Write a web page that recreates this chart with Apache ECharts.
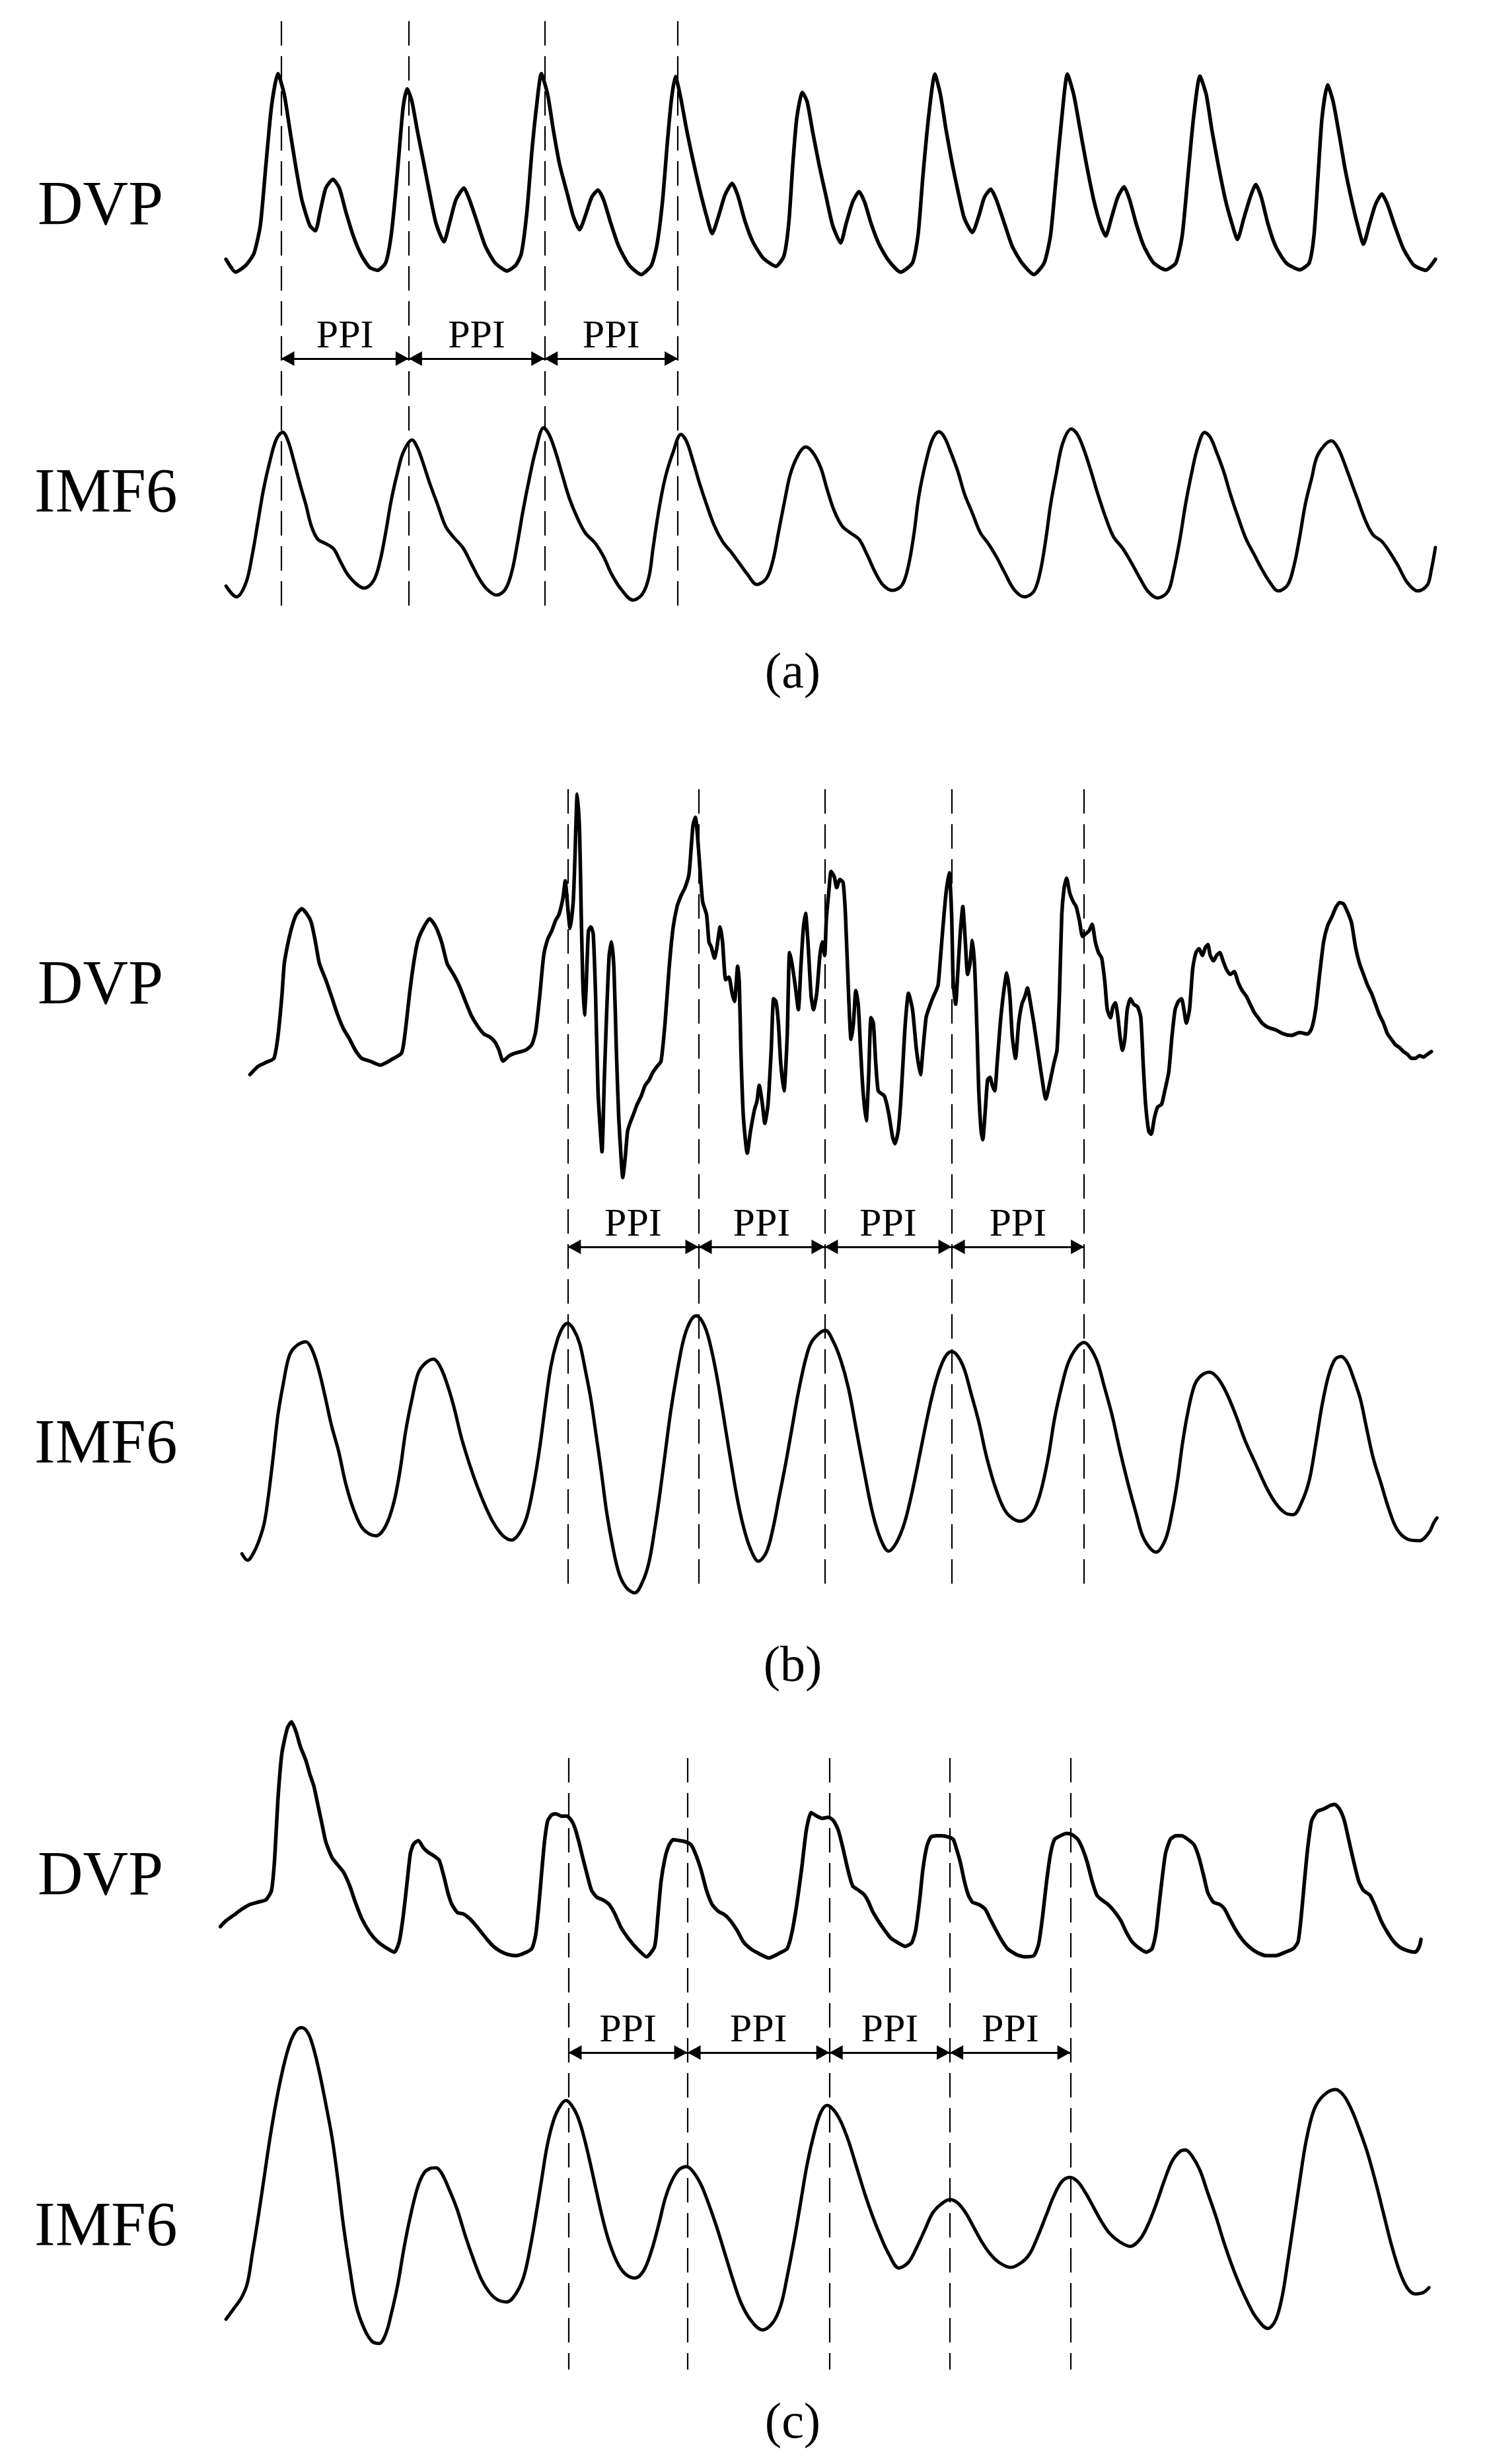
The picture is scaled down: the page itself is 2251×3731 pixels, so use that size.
<!DOCTYPE html>
<html>
<head>
<meta charset="utf-8">
<title>DVP / IMF6 PPI</title>
<script src="https://cdn.jsdelivr.net/npm/echarts@6/dist/echarts.min.js"></script>
<style>
html, body { margin: 0; padding: 0; background: #fff; }
#main { width: 2251px; height: 3731px; }
</style>
</head>
<body>
<div id="main"></div>
<script>
// waveforms as [sample, level]; level grows downward like the picture
var dvpA = [[15,1105],[27,1160],[40,1130],[50,1080],[58,960],[65,700],[72,450],[80,310],[88,400],[95,550],[102,700],[110,850],[120,960],[127,983],[133,900],[140,800],[149,762],[157,800],[165,900],[175,1010],[185,1090],[195,1140],[205,1152],[215,1120],[222,1000],[228,800],[233,600],[237,450],[242,375],[248,430],[255,560],[262,680],[270,820],[278,950],[288,1030],[295,950],[303,850],[313,800],[320,850],[330,950],[340,1050],[352,1120],[367,1155],[378,1130],[385,1080],[392,900],[398,650],[404,450],[410,310],[418,400],[425,550],[433,700],[443,830],[450,920],[458,978],[465,920],[473,840],[481,808],[488,850],[497,950],[507,1050],[520,1130],[535,1170],[548,1130],[555,1040],[562,850],[568,600],[573,420],[578,322],[585,420],[592,550],[600,680],[608,800],[617,920],[624,995],[632,920],[640,830],[649,780],[656,830],[665,940],[675,1030],[688,1100],[704,1135],[714,1090],[720,950],[725,700],[730,500],[737,390],[743,430],[750,560],[758,700],[767,840],[775,960],[785,1035],[792,950],[800,860],[808,815],[815,860],[823,950],[833,1040],[845,1110],[860,1160],[875,1120],[882,1000],[888,750],[895,500],[903,312],[910,400],[917,550],[925,700],[933,830],[940,930],[950,990],[958,920],[965,840],[973,805],[980,850],[990,950],[1000,1050],[1012,1120],[1027,1170],[1040,1120],[1048,1000],[1055,750],[1062,500],[1069,312],[1077,400],[1085,550],[1093,700],[1102,850],[1110,950],[1117,1005],[1124,930],[1132,840],[1140,795],[1147,850],[1155,950],[1165,1050],[1177,1120],[1192,1150],[1205,1120],[1213,1000],[1220,750],[1227,500],[1235,320],[1243,400],[1250,550],[1258,700],[1267,850],[1275,950],[1282,1020],[1290,930],[1298,840],[1305,785],[1312,840],[1320,950],[1330,1050],[1343,1120],[1360,1150],[1372,1120],[1378,1000],[1383,750],[1388,500],[1395,358],[1402,430],[1410,580],[1417,720],[1425,850],[1432,950],[1440,1040],[1447,960],[1455,870],[1463,825],[1470,870],[1480,970],[1490,1060],[1503,1130],[1518,1152],[1530,1105]];

var imfA = [[15,995],[28,1045],[40,980],[48,850],[55,700],[62,550],[70,420],[78,320],[86,287],[93,330],[100,420],[108,530],[115,620],[122,720],[130,780],[140,800],[150,825],[158,880],[167,940],[178,985],[188,1005],[200,970],[208,880],[215,750],[222,600],[230,470],[237,380],[248,323],[255,360],[262,430],[270,520],[280,620],[290,720],[300,770],[312,820],[322,890],[332,960],[342,1010],[354,1037],[365,1010],[373,930],[380,800],[387,650],[395,500],[403,370],[413,267],[420,300],[428,380],[436,480],[445,590],[455,680],[465,750],[478,800],[488,860],[498,940],[510,1010],[525,1060],[537,1030],[545,950],[550,820],[557,650],[565,500],[575,380],[585,297],[592,330],[600,420],[608,520],[617,620],[627,720],[637,790],[648,840],[658,890],[668,940],[680,988],[692,960],[700,880],[707,750],[715,600],[722,480],[732,390],[741,355],[750,380],[760,450],[768,550],[777,650],[787,720],[797,750],[808,780],[818,850],[828,930],[838,990],[850,1015],[862,990],[870,900],[877,750],[883,580],[892,420],[900,320],[908,285],[915,310],[923,380],[932,470],[940,570],[950,660],[960,750],[970,800],[980,860],[990,930],[1002,1010],[1015,1045],[1027,1020],[1035,930],[1042,780],[1048,620],[1055,480],[1063,340],[1074,272],[1082,300],[1090,370],[1098,460],[1107,570],[1117,680],[1127,770],[1138,820],[1148,880],[1160,960],[1170,1020],[1182,1050],[1195,1020],[1202,930],[1210,780],[1217,620],[1225,470],[1232,360],[1241,288],[1248,310],[1256,380],[1265,470],[1273,570],[1283,680],[1293,780],[1303,850],[1313,920],[1323,980],[1333,1018],[1345,990],[1353,900],[1360,770],[1367,620],[1375,500],[1383,390],[1400,327],[1408,360],[1415,420],[1423,500],[1432,590],[1442,690],[1452,760],[1463,790],[1473,840],[1483,900],[1495,980],[1508,1018],[1520,990],[1525,920],[1530,818]];

var dvpB = [[45,1090],[55,1060],[65,1045],[75,1030],[80,950],[85,800],[88,680],[93,600],[98,540],[103,500],[110,478],[117,500],[122,530],[127,600],[132,680],[140,740],[147,800],[155,870],[162,920],[170,960],[177,1000],[185,1030],[195,1040],[208,1055],[222,1035],[235,1010],[240,920],[245,790],[250,680],[255,600],[262,550],[270,515],[277,540],[285,600],[292,680],[300,720],[307,760],[315,820],[322,870],[330,910],[338,940],[345,950],[352,970],[357,1000],[362,1040],[370,1020],[378,1010],[390,1000],[398,980],[403,930],[408,800],[413,650],[418,590],[423,560],[428,520],[432,500],[437,440],[440,375],[443,470],[446,550],[450,450],[452,300],[455,55],[458,200],[460,500],[462,750],[464,870],[466,780],[469,560],[472,545],[475,570],[478,800],[481,1150],[484,1300],[486,1375],[489,1100],[492,850],[495,650],[498,600],[501,700],[504,1000],[507,1250],[510,1400],[512,1470],[515,1400],[518,1300],[521,1270],[525,1240],[530,1200],[535,1170],[540,1130],[545,1110],[550,1080],[555,1060],[560,1040],[565,900],[570,700],[575,550],[580,470],[585,430],[590,400],[595,350],[600,170],[603,140],[607,260],[612,450],[617,500],[620,600],[623,620],[627,660],[630,620],[634,545],[637,600],[641,740],[645,730],[649,790],[652,820],[656,690],[658,750],[660,1000],[663,1240],[668,1380],[672,1300],[677,1220],[680,1190],[683,1130],[687,1200],[690,1270],[694,1200],[698,1000],[701,810],[704,820],[707,900],[710,1050],[714,1150],[718,950],[721,640],[724,680],[728,760],[732,850],[735,700],[738,560],[741,495],[744,600],[748,800],[751,850],[755,790],[759,650],[762,600],[765,650],[767,520],[770,420],[773,340],[777,360],[780,400],[784,370],[788,380],[791,500],[795,800],[798,960],[801,900],[804,780],[807,830],[810,1000],[813,1150],[817,1260],[820,1100],[823,880],[826,900],[829,1050],[832,1150],[836,1160],[840,1170],[845,1230],[850,1320],[853,1345],[857,1300],[860,1200],[863,1050],[866,900],[870,790],[875,850],[880,1000],[885,1090],[888,1000],[892,880],[895,850],[900,810],[903,790],[907,760],[910,660],[913,550],[917,420],[921,345],[924,500],[926,750],[929,830],[932,700],[935,560],[938,470],[941,590],[944,720],[947,680],[950,595],[953,700],[956,950],[958,1150],[961,1300],[963,1330],[966,1230],[969,1110],[972,1100],[975,1130],[978,1150],[981,1050],[985,900],[989,790],[993,715],[997,800],[1000,950],[1004,1030],[1008,900],[1012,830],[1016,800],[1019,770],[1023,830],[1027,900],[1032,1000],[1037,1100],[1042,1180],[1047,1120],[1052,1050],[1056,1000],[1059,800],[1062,500],[1065,400],[1068,365],[1072,420],[1076,450],[1080,470],[1084,520],[1088,580],[1092,570],[1096,560],[1100,535],[1104,600],[1108,640],[1112,660],[1116,750],[1119,850],[1123,880],[1126,840],[1129,825],[1132,870],[1135,950],[1138,1000],[1141,960],[1144,850],[1148,810],[1152,830],[1157,840],[1161,880],[1164,1050],[1167,1200],[1171,1300],[1174,1310],[1178,1250],[1182,1210],[1187,1200],[1191,1150],[1196,1080],[1200,950],[1204,850],[1208,820],[1212,810],[1215,850],[1218,900],[1222,850],[1226,700],[1230,640],[1234,625],[1238,650],[1242,620],[1245,610],[1248,650],[1252,670],[1256,650],[1260,640],[1264,670],[1268,700],[1273,720],[1278,710],[1283,750],[1288,780],[1293,800],[1298,830],[1303,860],[1308,880],[1313,900],[1320,915],[1330,925],[1340,940],[1350,945],[1360,935],[1370,940],[1375,920],[1380,850],[1385,720],[1390,600],[1395,540],[1400,510],[1405,475],[1410,455],[1415,460],[1420,490],[1425,530],[1430,620],[1435,680],[1440,720],[1445,760],[1450,790],[1455,830],[1460,870],[1465,900],[1470,940],[1475,960],[1480,980],[1485,990],[1490,1005],[1495,1015],[1500,1030],[1505,1030],[1510,1020],[1515,1025],[1520,1015],[1525,1005]];

var imfB = [[35,1075],[42,1095],[50,1070],[57,1030],[63,980],[68,900],[74,780],[80,650],[87,550],[94,470],[102,440],[115,425],[122,445],[130,500],[138,580],[147,680],[156,760],[165,860],[175,940],[187,1000],[203,1020],[215,990],[225,920],[233,820],[240,700],[248,600],[256,520],[265,490],[275,478],[282,495],[290,540],[300,620],[310,720],[320,800],[330,870],[340,930],[350,980],[362,1020],[373,1033],[383,1010],[392,960],[400,870],[408,750],[415,620],[422,500],[430,420],[437,380],[443,368],[450,385],[458,430],[465,510],[472,600],[478,700],[485,820],[492,950],[500,1060],[508,1140],[517,1180],[527,1195],[537,1160],[545,1100],[552,1000],[558,900],[565,770],[572,640],[580,520],[588,420],[596,365],[604,345],[611,360],[618,400],[625,470],[632,560],[640,680],[648,800],[655,900],[663,990],[672,1060],[682,1098],[692,1070],[700,1000],[708,900],[716,800],[724,690],[732,580],[742,470],[750,420],[766,390],[775,420],[785,480],[795,570],[805,700],[815,830],[825,950],[835,1030],[845,1067],[855,1040],[865,980],[875,880],[885,760],[895,640],[905,540],[915,475],[924,455],[932,470],[940,510],[948,580],[958,670],[968,780],[980,880],[993,950],[1010,975],[1025,950],[1035,890],[1045,780],[1053,660],[1062,560],[1070,490],[1080,445],[1090,427],[1098,445],[1107,490],[1115,560],[1125,650],[1135,760],[1145,860],[1155,950],[1165,1030],[1180,1070],[1192,1030],[1200,950],[1207,850],[1213,740],[1220,640],[1228,560],[1236,530],[1247,518],[1257,535],[1268,580],[1280,650],[1292,730],[1305,800],[1318,870],[1330,920],[1342,950],[1352,955],[1362,920],[1372,850],[1380,740],[1388,620],[1396,530],[1404,480],[1412,470],[1420,490],[1428,540],[1436,600],[1443,680],[1452,780],[1462,860],[1472,940],[1482,1000],[1495,1030],[1510,1035],[1522,1010],[1528,980],[1532,965]];

var dvpC = [[8,895],[15,870],[25,845],[35,820],[45,800],[55,790],[65,780],[72,740],[76,600],[80,350],[85,150],[92,40],[97,15],[103,60],[108,120],[115,180],[120,240],[125,290],[130,370],[135,450],[140,530],[148,600],[155,630],[162,660],[170,720],[177,790],[185,860],[195,920],[205,960],[215,985],[226,1005],[232,960],[237,850],[242,700],[246,580],[250,540],[256,525],[262,555],[268,575],[275,590],[282,610],[288,680],[293,750],[298,800],[305,835],[312,840],[320,860],[328,890],[335,920],[342,950],[350,980],[358,1000],[368,1015],[378,1020],[388,1010],[398,990],[403,930],[407,800],[410,680],[414,530],[418,440],[423,415],[428,410],[435,420],[442,420],[448,440],[452,470],[457,530],[462,600],[468,680],[473,740],[480,770],[487,780],[495,800],[502,840],[510,900],[520,950],[530,990],[542,1025],[552,980],[556,850],[560,700],[565,600],[570,545],[575,522],[582,525],[590,530],[598,545],[604,590],[610,650],[617,740],[624,800],[632,830],[640,845],[647,870],[655,910],[663,960],[672,990],[682,1010],[695,1030],[708,1010],[718,990],[724,920],[730,800],[736,650],[742,480],[748,405],[755,420],[762,430],[770,425],[776,440],[782,480],[788,560],[794,650],[800,720],[808,740],[815,760],[820,790],[825,830],[832,870],[840,910],[848,945],[857,965],[866,980],[874,965],[879,910],[884,780],[888,650],[893,550],[898,510],[905,505],[912,505],[920,510],[926,520],[930,560],[935,620],[940,700],[945,760],[950,790],[958,800],[966,820],[972,860],[978,900],[986,950],[994,990],[1005,1015],[1015,1025],[1027,1020],[1033,970],[1038,850],[1043,700],[1048,580],[1053,520],[1060,505],[1068,495],[1075,500],[1082,520],[1088,560],[1094,620],[1100,700],[1106,760],[1112,780],[1120,800],[1128,830],[1136,870],[1143,920],[1150,960],[1158,985],[1168,1005],[1175,990],[1180,920],[1184,800],[1188,680],[1192,580],[1198,520],[1205,505],[1212,505],[1220,520],[1228,545],[1234,600],[1240,680],[1245,750],[1252,790],[1260,800],[1266,820],[1272,860],[1280,910],[1288,950],[1296,980],[1306,1005],[1318,1020],[1330,1020],[1342,1005],[1352,990],[1358,960],[1362,850],[1366,700],[1370,560],[1375,440],[1382,400],[1390,390],[1398,375],[1404,370],[1410,390],[1416,440],[1422,530],[1428,620],[1434,700],[1440,740],[1448,760],[1455,810],[1462,870],[1470,920],[1478,960],[1486,985],[1496,1000],[1505,1005],[1510,980],[1512,950]];

var imfC = [[15,1078],[25,1040],[35,1000],[42,950],[48,850],[55,730],[62,600],[70,450],[78,320],[87,200],[95,120],[103,75],[110,65],[118,85],[125,140],[132,220],[140,330],[148,450],[155,590],[162,750],[170,900],[178,1030],[188,1110],[198,1155],[207,1162],[215,1130],[222,1060],[230,960],[238,830],[246,720],[255,620],[263,570],[270,555],[278,552],[285,570],[295,630],[305,700],[315,790],[325,870],[335,940],[345,985],[355,1010],[367,1018],[378,990],[388,930],[396,830],[403,720],[410,600],[417,480],[425,390],[433,340],[441,318],[448,335],[455,370],[462,430],[470,520],[478,620],[487,730],[495,810],[505,880],[515,920],[527,935],[538,910],[548,840],[557,750],[565,660],[573,600],[582,560],[592,548],[600,565],[610,610],[620,680],[630,760],[640,850],[650,940],[660,1020],[672,1080],[687,1115],[700,1090],[710,1030],[718,930],[727,800],[735,670],[743,540],[752,430],[760,360],[768,335],[776,350],[785,390],[795,460],[805,550],[815,640],[825,720],[835,790],[845,850],[858,900],[870,880],[880,830],[890,770],[900,710],[910,680],[922,662],[932,675],[942,710],[952,760],[962,810],[972,850],[983,880],[998,898],[1012,880],[1022,850],[1032,790],[1042,720],[1052,650],[1062,600],[1072,585],[1082,600],[1092,640],[1102,690],[1112,740],[1122,780],[1135,810],[1148,825],[1160,800],[1170,750],[1180,680],[1190,600],[1200,530],[1210,495],[1217,490],[1225,510],[1235,560],[1245,640],[1255,720],[1265,810],[1275,890],[1285,960],[1295,1020],[1305,1070],[1320,1110],[1330,1080],[1338,1000],[1345,880],[1352,750],[1360,600],[1368,460],[1378,350],[1390,300],[1405,280],[1415,300],[1425,350],[1435,420],[1445,500],[1455,600],[1465,710],[1475,820],[1485,910],[1495,970],[1505,990],[1515,985],[1522,968]];

// pulse peaks marked with dashed lines (sample positions)
var peaksA = [84, 244, 414, 581];
var peaksB = [443, 607, 765, 924, 1090];
var peaksC = [444, 593, 771, 922, 1073];

var rowNames = ['DVP', 'IMF6'];
var panelNames = ['(a)', '(b)', '(c)'];
var intervalName = 'PPI';

var FONT = '"Liberation Serif", "Times New Roman", serif';

// layout in page pixels: [top, height, level range] for each trace
var panels = [
  { dvp: dvpA, imf: imfA, peaks: peaksA,
    dvpBox: [2, 560, 1584], imfBox: [560, 500, 1520],
    span: [0, 1060], dash: [32, 926], arrowY: 543,
    labelY: [315, 750], captionY: 1021 },
  { dvp: dvpB, imf: imfB, peaks: peaksB,
    dvpBox: [1180, 640, 1560], imfBox: [1822, 780, 1580],
    span: [1060, 2600], dash: [1195, 2406], arrowY: 1888,
    labelY: [1495, 2190], captionY: 2525 },
  { dvp: dvpC, imf: imfC, peaks: peaksC,
    dvpBox: [2602, 560, 1590], imfBox: [3042, 691, 1581],
    span: [2600, 3731], dash: [2662, 3588], arrowY: 3108,
    labelY: [2844, 3375], captionY: 3671 }
];

var LEFT = 324, WIDTH = 1873, XMAX = 1550;

var grid = [], xAxis = [], yAxis = [], series = [], graphic = [];

function addGrid(top, height, ymin, ymax) {
  var i = grid.length;
  grid.push({ left: LEFT, top: top, width: WIDTH, height: height });
  xAxis.push({ type: 'value', gridIndex: i, min: 0, max: XMAX, show: false });
  yAxis.push({ type: 'value', gridIndex: i, min: ymin, max: ymax, inverse: true, show: false });
  return i;
}

// one end of a PPI arrow; the triangle tip sits on the dashed line
function arrowEnd(x, y) {
  return { coord: [x, y], symbol: 'triangle', symbolSize: [22, 20], symbolOffset: [0, 10] };
}

panels.forEach(function (p, k) {
  [[p.dvp, p.dvpBox, 0.2, 5.5], [p.imf, p.imfBox, 0.35, 5]].forEach(function (t) {
    var gi = addGrid(t[1][0], t[1][1], 0, t[1][2]);
    series.push({
      type: 'line', xAxisIndex: gi, yAxisIndex: gi, data: t[0],
      showSymbol: false, smooth: t[2], clip: false, silent: true,
      lineStyle: { color: '#000', width: t[3], join: 'round', cap: 'round' }
    });
  });

  // overlay grid in page pixels for the peak markers and PPI arrows
  var oi = addGrid(p.span[0], p.span[1] - p.span[0], p.span[0], p.span[1]);
  var lines = p.peaks.map(function (x) {
    return [{ coord: [x, p.dash[0]] }, { coord: [x, p.dash[1]] }];
  });
  var arrows = [];
  for (var j = 0; j < p.peaks.length - 1; j++) {
    arrows.push([arrowEnd(p.peaks[j], p.arrowY), arrowEnd(p.peaks[j + 1], p.arrowY)]);
  }
  series.push({
    type: 'line', xAxisIndex: oi, yAxisIndex: oi, data: [], silent: true,
    markLine: {
      silent: true, animation: false, symbol: 'none',
      label: { show: false },
      lineStyle: { color: '#000', width: 2.2, type: [37, 16] },
      emphasis: { disabled: true },
      data: lines
    }
  });
  series.push({
    type: 'line', xAxisIndex: oi, yAxisIndex: oi, data: [], silent: true,
    markLine: {
      silent: true, animation: false,
      symbol: 'triangle', symbolSize: 20,
      itemStyle: { color: '#000' },
      lineStyle: { color: '#000', width: 3, type: 'solid' },
      label: {
        show: true, position: 'middle', formatter: intervalName, distance: 3,
        color: '#000', fontSize: 60, fontFamily: FONT
      },
      emphasis: { disabled: true },
      data: arrows
    }
  });

  rowNames.forEach(function (name, r) {
    graphic.push({
      type: 'text', x: r === 0 ? 57 : 52, y: p.labelY[r], silent: true,
      style: { text: name, fontSize: 95, fontFamily: FONT, fill: '#000', verticalAlign: 'middle', align: 'left' }
    });
  });
  graphic.push({
    type: 'text', x: 1200, y: p.captionY, silent: true,
    style: { text: panelNames[k], fontSize: 76, fontFamily: FONT, fill: '#000', verticalAlign: 'middle', align: 'center' }
  });
});

var myChart = echarts.init(document.getElementById('main'));
var option = {
  backgroundColor: '#fff',
  animation: false,
  grid: grid,
  xAxis: xAxis,
  yAxis: yAxis,
  series: series,
  graphic: graphic
};
myChart.setOption(option);

window.onresize = function () {
  myChart.resize();
};
</script>
</body>
</html>
